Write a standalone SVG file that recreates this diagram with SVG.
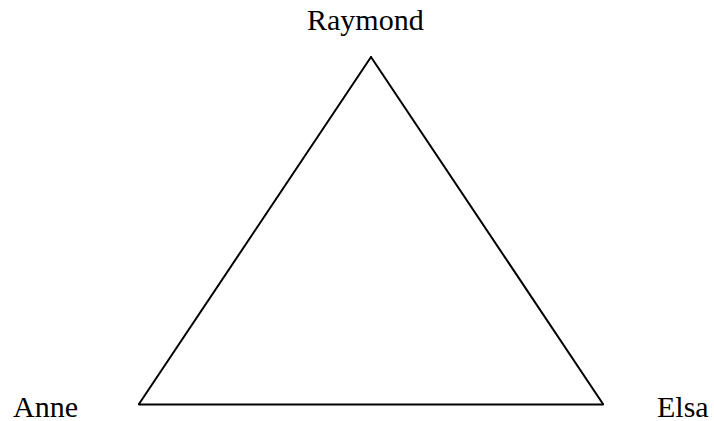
<svg xmlns="http://www.w3.org/2000/svg" width="714" height="421" viewBox="0 0 714 421">
<style>
.lbl{font-family:"Liberation Serif","Times New Roman",serif;font-size:30px;fill:#000}
.edge{stroke:#000;stroke-width:2;fill:none;stroke-linecap:round;stroke-linejoin:miter}
</style>
<rect width="714" height="421" fill="#fff"/>
<g id="connectors">
<line class="edge" x1="371" y1="57" x2="139" y2="404"/>
<line class="edge" x1="371" y1="57" x2="603" y2="404"/>
<line class="edge" x1="139" y1="404.5" x2="603" y2="404.5"/>
</g>
<g id="raymond"><text class="lbl" x="307" y="30">Raymond</text></g>
<g id="anne"><text class="lbl" x="13" y="417">Anne</text></g>
<g id="elsa"><text class="lbl" x="657" y="417">Elsa</text></g>
</svg>
